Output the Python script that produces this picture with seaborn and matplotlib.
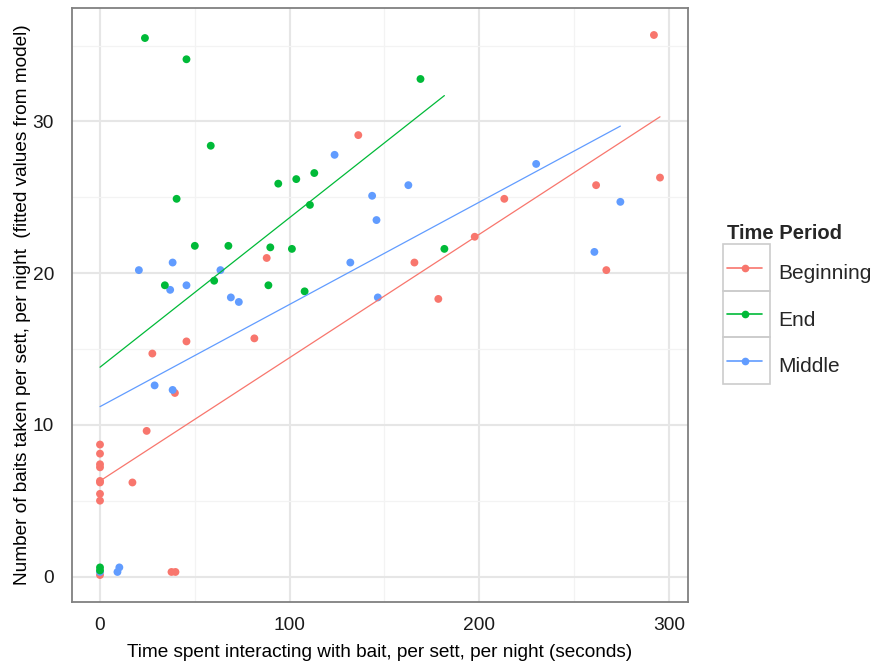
import numpy as np
import pandas as pd
import matplotlib
matplotlib.use("Agg")
import matplotlib.pyplot as plt
from matplotlib.lines import Line2D
from matplotlib.patches import Rectangle
from matplotlib.transforms import IdentityTransform
import seaborn as sns

# --- data ---
periods = ["Beginning", "End", "Middle"]
colours = ["#F8766D", "#00BA38", "#619CFF"]

beg_time = [0, 0, 0, 0, 0, 0, 0, 0, 0, 17.1, 24.6, 27.6, 37.7, 39.8, 39.5,
            45.6, 81.4, 87.9, 136.2, 165.8, 178.4, 197.6, 213.2, 261.6, 267.0,
            292.1, 295.3]
beg_baits = [8.7, 8.1, 7.4, 7.2, 6.3, 6.2, 5.45, 5.0, 0.1, 6.2, 9.6, 14.7,
             0.3, 0.3, 12.1, 15.5, 15.7, 21.0, 29.1, 20.7, 18.3, 22.4, 24.9,
             25.8, 20.2, 35.7, 26.3]

mid_time = [0, 9.2, 10.2, 20.5, 28.8, 37.0, 38.3, 38.3, 45.6, 63.5, 69.0,
            73.2, 123.7, 132.0, 143.5, 145.8, 146.5, 162.6, 230.0, 260.7, 274.4]
mid_baits = [0.3, 0.3, 0.6, 20.2, 12.6, 18.9, 20.7, 12.3, 19.2, 20.2, 18.4,
             18.1, 27.8, 20.7, 25.1, 23.5, 18.4, 25.8, 27.2, 21.4, 24.7]

end_time = [0, 0, 23.7, 34.2, 40.4, 45.6, 50.0, 58.4, 60.2, 67.7, 88.8, 89.8,
            94.0, 101.2, 103.5, 107.9, 110.7, 113.0, 169.0, 181.6]
end_baits = [0.4, 0.6, 35.5, 19.2, 24.9, 34.1, 21.8, 28.4, 19.5, 21.8, 19.2,
             21.7, 25.9, 21.6, 26.2, 18.8, 24.5, 26.6, 32.8, 21.6]

# fitted model lines (intercept, slope) per period
intercepts = {"Beginning": 6.3, "End": 13.8, "Middle": 11.2}
slopes = {"Beginning": 0.0813, "End": 0.0986, "Middle": 0.0674}

df = pd.concat([
    pd.DataFrame({"time": beg_time, "baits": beg_baits, "period": "Beginning"}),
    pd.DataFrame({"time": mid_time, "baits": mid_baits, "period": "Middle"}),
    pd.DataFrame({"time": end_time, "baits": end_baits, "period": "End"}),
], ignore_index=True)
df["fitted"] = df["period"].map(intercepts) + df["period"].map(slopes) * df["time"]

pal = dict(zip(periods, colours))

# --- figure ---
sns.set_style("white")
plt.rcParams["font.family"] = ["Liberation Sans", "DejaVu Sans"]

W, H = 875, 666
fig = plt.figure(figsize=(W / 100, H / 100), dpi=100)
ax = fig.add_axes([72 / W, (H - 602) / H, (688 - 72) / W, (602 - 8) / H])

sns.scatterplot(data=df, x="time", y="baits", hue="period", palette=pal,
                s=32, linewidth=0, legend=False, ax=ax, zorder=3)
sns.lineplot(data=df, x="time", y="fitted", hue="period", palette=pal,
             estimator=None, sort=True, linewidth=0.9, legend=False, ax=ax,
             zorder=4)

# ggplot-like expansion of 5%
xr = df["time"].max() - df["time"].min()
yr = df["baits"].max() - df["baits"].min()
ax.set_xlim(df["time"].min() - 0.05 * xr, df["time"].max() + 0.05 * xr)
ax.set_ylim(df["baits"].min() - 0.05 * yr, df["baits"].max() + 0.05 * yr)

ax.set_xticks([0, 100, 200, 300])
ax.set_xticks([50, 150, 250], minor=True)
ax.set_yticks([0, 10, 20, 30])
ax.set_yticks([5, 15, 25, 35], minor=True)
ax.grid(which="major", color="#e6e6e6", linewidth=1.5, zorder=0)
ax.grid(which="minor", color="#f3f3f3", linewidth=0.9, zorder=0)
ax.set_axisbelow(True)

for sp in ax.spines.values():
    sp.set_color("#808080")
    sp.set_linewidth(1.3)

ax.tick_params(axis="both", which="major", direction="out", length=5,
               width=1.0, color="#333333", labelsize=13.8, labelcolor="#1a1a1a")
ax.tick_params(axis="x", which="major", pad=6)
ax.tick_params(axis="y", which="major", pad=8)
ax.tick_params(which="minor", length=0)

ax.set_xlabel("Time spent interacting with bait, per sett, per night (seconds)",
              fontsize=13.7, color="black", labelpad=7)
ax.set_ylabel("Number of baits taken per sett, per night  (fitted values from model)",
              fontsize=13.7, color="black", labelpad=1)

# legend: line + point, each key in a grey box
handles = [Line2D([0], [0], color=c, marker="o", markersize=4.5, linewidth=1.2)
           for c in colours]
fs = 15
fs_px = fs * 100 / 72
gap_px = 12.5        # extra room between title and first key
pitch_px = 46.5      # distance between key rows
row_pt = (pitch_px - gap_px) * 72 / 100
hh = (row_pt / fs - 0.245) / 0.65  # matplotlib trims 0.35*fs*(hh-0.7) as descent
leg = ax.legend(handles, periods, title="Time Period", loc="upper left",
                bbox_to_anchor=(717 / W, (H - 214) / H),
                bbox_transform=fig.transFigure, frameon=False, fontsize=fs,
                title_fontproperties={"weight": "bold", "size": 14.5},
                alignment="left", borderpad=0, labelspacing=gap_px / fs_px,
                handlelength=35 / fs_px, handleheight=hh,
                handletextpad=16 / fs_px, numpoints=1)

fig.canvas.draw()
for ln in leg.get_lines():
    pts = ln.get_transform().transform(ln.get_xydata())
    x0, x1 = pts[:, 0].min(), pts[:, 0].max()
    yc = pts[:, 1].mean()
    rect = Rectangle((x0 - 4, yc - pitch_px / 2), (x1 - x0) + 12, pitch_px,
                     transform=IdentityTransform(), facecolor="none",
                     edgecolor="#cccccc", linewidth=1.2)
    fig.add_artist(rect)

fig.savefig("out.png", dpi=100)
